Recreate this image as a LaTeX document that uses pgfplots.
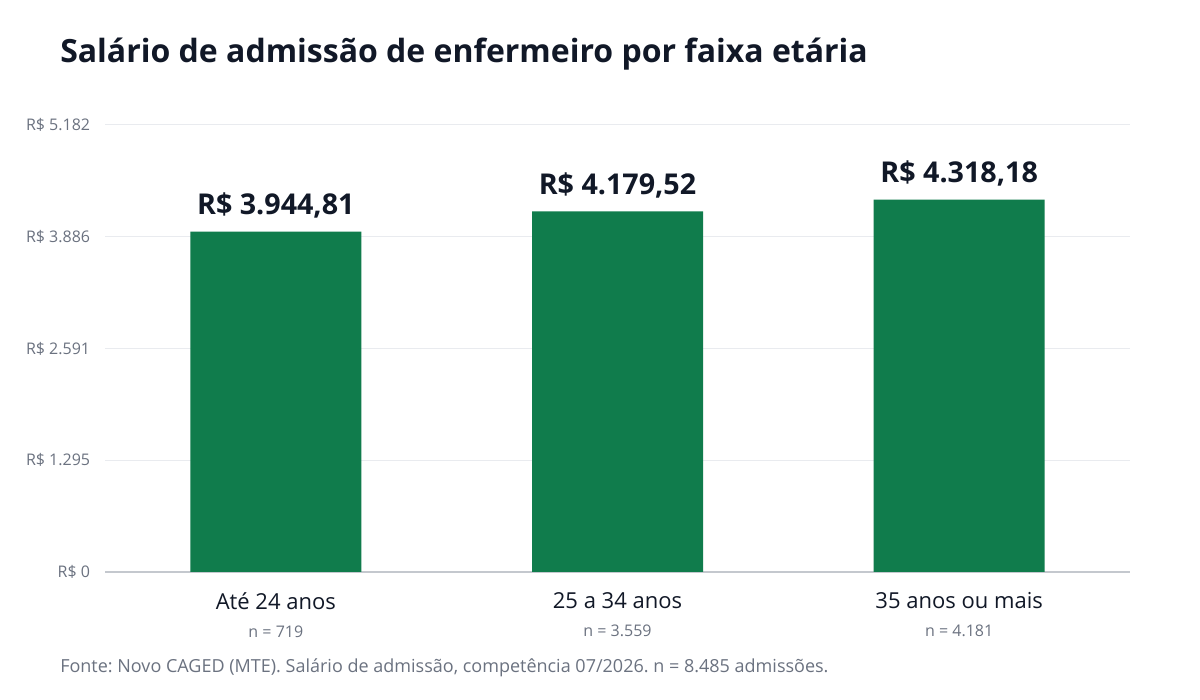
\documentclass[border=0pt]{standalone}
\usepackage{fontspec}
\setmainfont{Open Sans}
\usepackage{pgfplots}
\pgfplotsset{compat=1.18}
\definecolor{bargreen}{HTML}{107C4C}
\definecolor{titlec}{HTML}{111827}
\definecolor{tickc}{HTML}{6B7280}
\definecolor{gridc}{HTML}{E9EBEF}
\definecolor{axisc}{HTML}{C4C8CE}
\frenchspacing
\begin{document}
\begin{tikzpicture}
\path[fill=white] (0,0) rectangle (900pt,525pt);
\node[anchor=base west, inner sep=0pt, text=titlec, font=\bfseries\fontsize{24}{28}\selectfont] at (45pt,477.75pt) {Salário de admissão de enfermeiro por faixa etária};
\node[anchor=base west, inner sep=0pt, text=tickc, font=\fontsize{13.5}{16}\selectfont] at (45pt,20.25pt) {Fonte: Novo CAGED (MTE). Salário de admissão, competência 07/2026. n = 8.485 admissões.};
\begin{axis}[
  at={(78.75pt,96pt)}, anchor=south west,
  scale only axis, width=768.75pt, height=335.25pt,
  xmin=-0.5, xmax=2.5, ymin=0, ymax=5182,
  ybar, bar width=128.25pt,
  axis x line*=bottom, axis y line*=left,
  y axis line style={draw=none},
  x axis line style={draw=axisc, line width=0.9pt, -},
  major tick length=0pt,
  ymajorgrids, major grid style={draw=gridc, line width=0.75pt},
  ytick={0,1295.5,2591,3886.5,5182},
  yticklabels={R\$ 0, R\$ 1.295, R\$ 2.591, R\$ 3.886, R\$ 5.182},
  yticklabel style={text=tickc, font=\fontsize{12}{14}\selectfont, anchor=east, inner sep=0pt, xshift=-11pt},
  xtick={0,1,2},
  xticklabels={{Até 24 anos\\[2pt]{\color{tickc}\fontsize{12}{14}\selectfont n = 719}},
               {25 a 34 anos\\[2pt]{\color{tickc}\fontsize{12}{14}\selectfont n = 3.559}},
               {35 anos ou mais\\[2pt]{\color{tickc}\fontsize{12}{14}\selectfont n = 4.181}}},
  xticklabel style={align=center, text=titlec, font=\fontsize{16.5}{19}\selectfont, anchor=north, inner sep=0pt, yshift=-15pt},
  point meta=explicit symbolic,
  nodes near coords,
  every node near coord/.append style={anchor=base, text=titlec, font=\bfseries\fontsize{21.5}{25}\selectfont, inner sep=0pt, yshift=12.75pt},
  clip=false,
]
\addplot[fill=bargreen, draw=none] coordinates {(0,3944.81) [R\$ 3.944,81] (1,4179.52) [R\$ 4.179,52] (2,4318.18) [R\$ 4.318,18]};
\end{axis}
\end{tikzpicture}
\end{document}
